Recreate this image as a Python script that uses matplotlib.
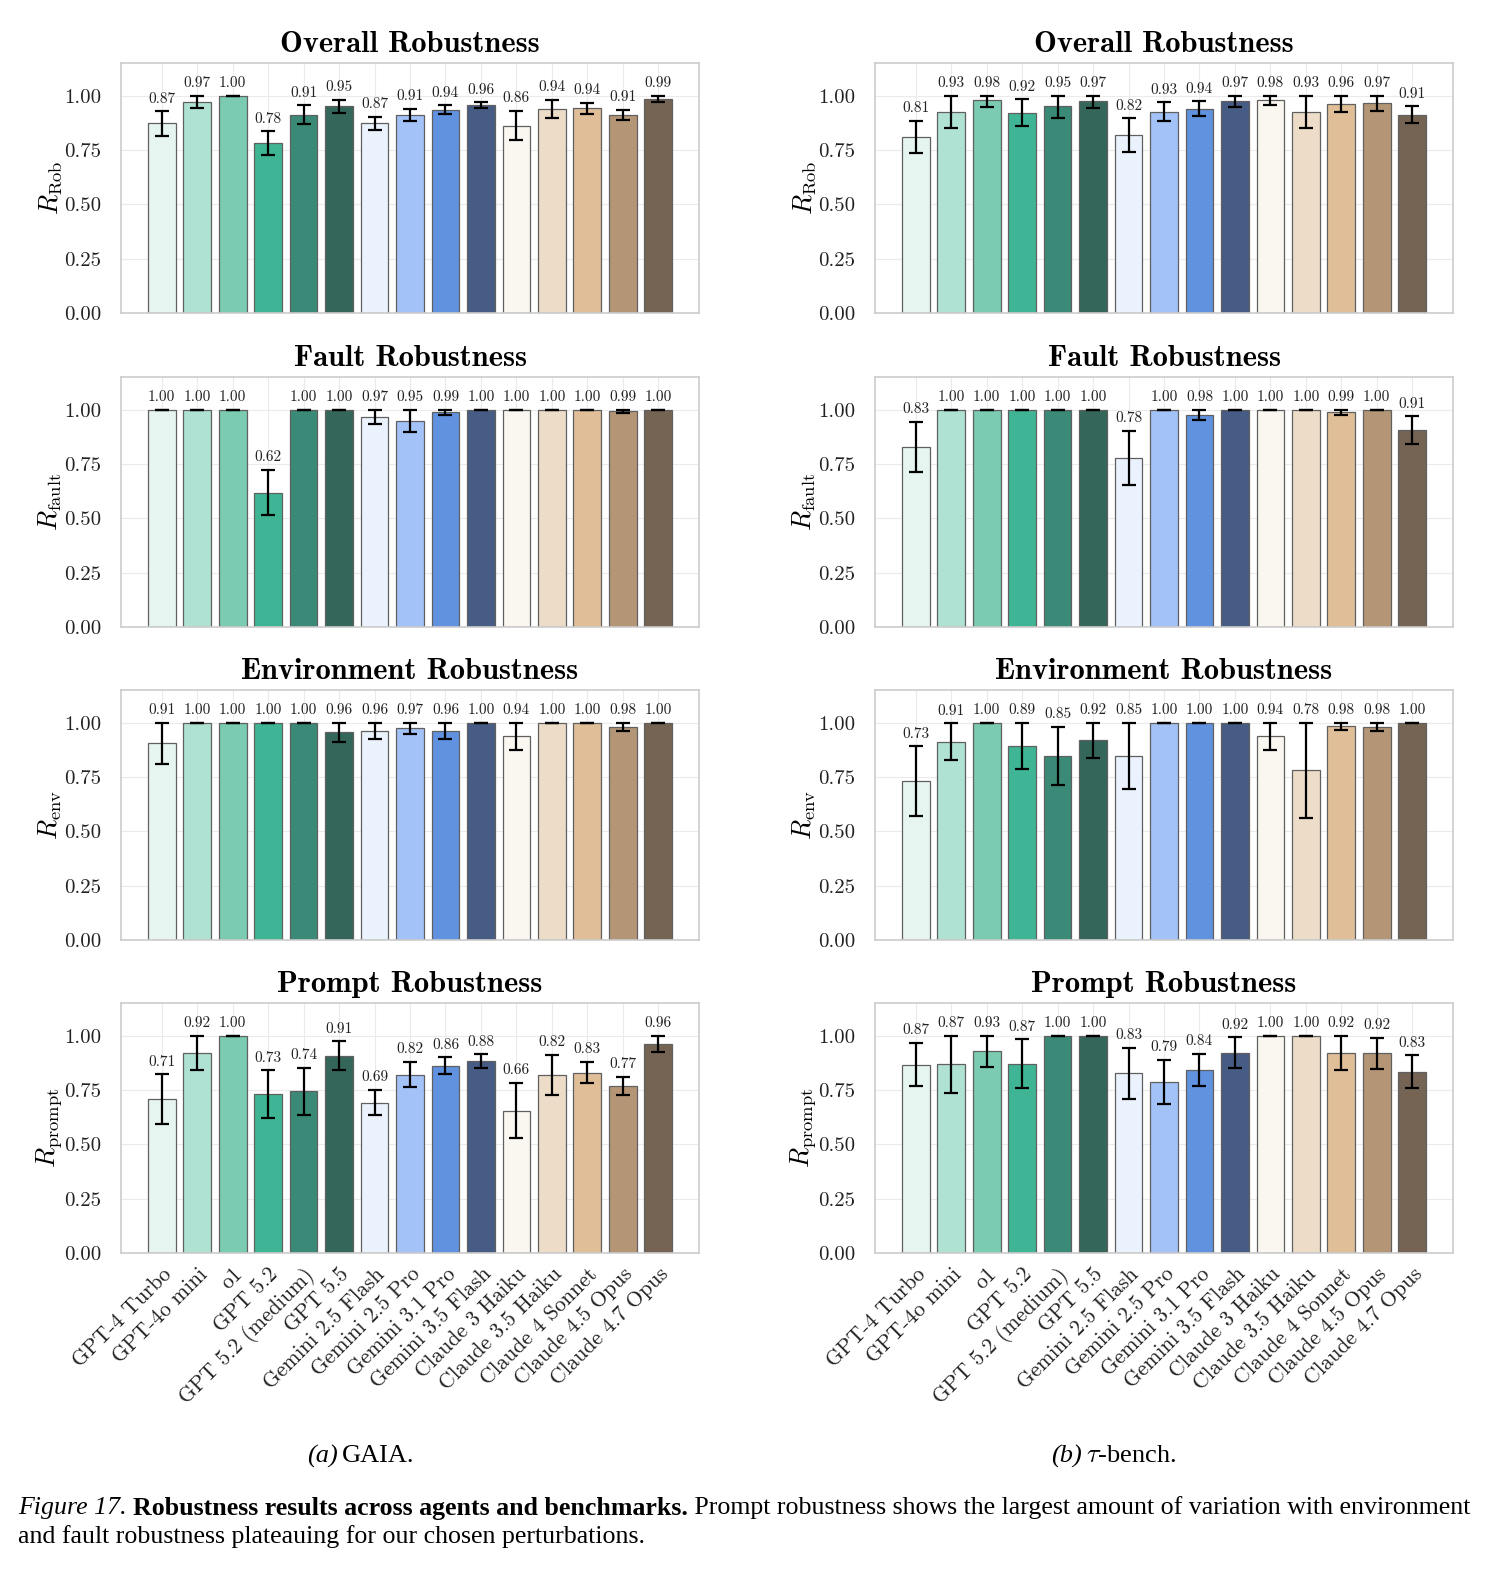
import numpy as np
import matplotlib
matplotlib.use("Agg")
import matplotlib.pyplot as plt

plt.rcParams['mathtext.fontset'] = 'cm'
plt.rcParams['font.family'] = ['cmr10', 'DejaVu Serif']
plt.rcParams['axes.formatter.use_mathtext'] = True

# ===============================
# Data
# ===============================

models = ["GPT-4 Turbo", "GPT-4o mini", "o1", "GPT 5.2", "GPT 5.2 (medium)", "GPT 5.5",
          "Gemini 2.5 Flash", "Gemini 2.5 Pro", "Gemini 3.1 Pro", "Gemini 3.5 Flash",
          "Claude 3 Haiku", "Claude 3.5 Haiku", "Claude 4 Sonnet", "Claude 4.5 Opus", "Claude 4.7 Opus"]

colors = ["#e6f5f0", "#b0e2d3", "#7acbb2", "#3fb595", "#3a8a77", "#35665a",
          "#eaf2fd", "#a3c2f7", "#6192e0", "#465c84",
          "#faf6f0", "#ecdcc8", "#dfbe98", "#b49676", "#756453"]

# GAIA
gaia_overall = [0.872, 0.972, 1.00, 0.782, 0.912, 0.952, 0.872, 0.912, 0.935, 0.957,
                0.862, 0.938, 0.941, 0.912, 0.986]
gaia_overall_err = [0.056, 0.027, 0.0, 0.053, 0.044, 0.030, 0.030, 0.028, 0.020, 0.013,
                    0.068, 0.043, 0.025, 0.022, 0.014]
gaia_fault = [1.00, 1.00, 1.00, 0.618, 1.00, 1.00, 0.968, 0.948, 0.988, 1.00,
              1.00, 1.00, 1.00, 0.994, 1.00]
gaia_fault_err = [0.0, 0.0, 0.0, 0.105, 0.0, 0.0, 0.032, 0.050, 0.013, 0.0,
                  0.0, 0.0, 0.0, 0.008, 0.0]
gaia_env = [0.905, 1.00, 1.00, 1.00, 1.00, 0.957, 0.962, 0.975, 0.962, 1.00,
            0.937, 1.00, 1.00, 0.981, 1.00]
gaia_env_err = [0.095, 0.0, 0.0, 0.0, 0.0, 0.045, 0.039, 0.026, 0.038, 0.0,
                0.062, 0.0, 0.0, 0.018, 0.0]
gaia_prompt = [0.708, 0.922, 1.00, 0.731, 0.744, 0.908, 0.692, 0.821, 0.862, 0.884,
               0.655, 0.820, 0.830, 0.769, 0.963]
gaia_prompt_err = [0.115, 0.082, 0.0, 0.110, 0.109, 0.065, 0.059, 0.059, 0.038, 0.031,
                   0.128, 0.093, 0.050, 0.042, 0.037]

# tau-bench
tau_overall = [0.809, 0.926, 0.978, 0.921, 0.950, 0.973, 0.818, 0.926, 0.940, 0.973,
               0.980, 0.926, 0.963, 0.968, 0.912]
tau_overall_err = [0.075, 0.075, 0.030, 0.063, 0.053, 0.028, 0.077, 0.043, 0.033, 0.025,
                   0.022, 0.075, 0.037, 0.037, 0.038]
tau_fault = [0.830, 1.00, 1.00, 1.00, 1.00, 1.00, 0.778, 1.00, 0.977, 1.00,
             1.00, 1.00, 0.988, 1.00, 0.905]
tau_fault_err = [0.115, 0.0, 0.0, 0.0, 0.0, 0.0, 0.125, 0.0, 0.023, 0.0,
                 0.0, 0.0, 0.013, 0.0, 0.065]
tau_env = [0.732, 0.911, 1.00, 0.893, 0.848, 0.919, 0.848, 1.00, 1.00, 1.00,
           0.937, 0.782, 0.985, 0.980, 1.00]
tau_env_err = [0.160, 0.085, 0.0, 0.107, 0.133, 0.082, 0.154, 0.0, 0.0, 0.0,
               0.063, 0.220, 0.019, 0.020, 0.0]
tau_prompt = [0.866, 0.870, 0.929, 0.871, 1.00, 1.00, 0.826, 0.787, 0.843, 0.922,
              1.00, 1.00, 0.920, 0.918, 0.834]
tau_prompt_err = [0.100, 0.135, 0.072, 0.113, 0.0, 0.0, 0.117, 0.103, 0.074, 0.070,
                  0.0, 0.0, 0.079, 0.073, 0.076]

titles = ["Overall Robustness", "Fault Robustness", "Environment Robustness", "Prompt Robustness"]
ylabels = [r"$R_{\mathrm{Rob}}$", r"$R_{\mathrm{fault}}$", r"$R_{\mathrm{env}}$", r"$R_{\mathrm{prompt}}$"]

gaia = [(gaia_overall, gaia_overall_err), (gaia_fault, gaia_fault_err),
        (gaia_env, gaia_env_err), (gaia_prompt, gaia_prompt_err)]
tau = [(tau_overall, tau_overall_err), (tau_fault, tau_fault_err),
       (tau_env, tau_env_err), (tau_prompt, tau_prompt_err)]

# ===============================
# Figure
# ===============================

W, H = 1491, 1575
fig = plt.figure(figsize=(W / 100, H / 100), dpi=100)

col_left = [121, 875]
ax_w = 578
row_top = [63, 377, 690, 1003]
ax_h = 250

x = np.arange(len(models))


def draw_panel(ax, vals, errs, title, ylabel, show_xticks):
    vals = np.array(vals)
    errs = np.array(errs)
    hi = np.minimum(vals + errs, 1.0)
    lo = np.maximum(vals - errs, 0.0)
    ax.set_axisbelow(True)
    ax.grid(True, color='#ebebeb', linewidth=0.8)
    ax.bar(x, vals, width=0.78, color=colors, edgecolor='#606060', linewidth=0.9, zorder=2)
    ax.errorbar(x, vals, yerr=[vals - lo, hi - vals], fmt='none', ecolor='black',
                elinewidth=1.6, capsize=5, capthick=1.6, zorder=3)
    for xi, v, t in zip(x, vals, hi):
        ax.annotate(f"{v:.2f}", (xi, t), xytext=(0, 4), textcoords='offset points',
                    ha='center', va='bottom', fontsize=11, color='#222222')
    ax.set_xlim(-1.15, len(models) - 1 + 1.15)
    ax.set_ylim(0, 1.15)
    ax.set_yticks([0, 0.25, 0.5, 0.75, 1.0])
    ax.set_yticklabels([f"{t:.2f}" for t in [0, 0.25, 0.5, 0.75, 1.0]], fontsize=15)
    ax.set_xticks(x)
    if show_xticks:
        ax.set_xticklabels(models, rotation=45, ha='right', rotation_mode='anchor', fontsize=15.5)
    else:
        ax.set_xticklabels([])
    ax.tick_params(axis='y', length=0, pad=14, colors='#222222')
    ax.tick_params(axis='x', length=0, pad=8, colors='#222222')
    for s in ax.spines.values():
        s.set_color('#cccccc')
        s.set_linewidth(1.2)
    ax.set_title(title, fontsize=22, fontfamily='cmb10', pad=8)
    ax.set_ylabel(ylabel, fontsize=19, labelpad=0)


for c, data in enumerate([gaia, tau]):
    for r in range(4):
        ax = fig.add_axes([col_left[c] / W, 1 - (row_top[r] + ax_h) / H, ax_w / W, ax_h / H])
        draw_panel(ax, data[r][0], data[r][1], titles[r], ylabels[r], r == 3)

# sub captions
sub_y = 1 - 1456 / H
fig.text(338 / W, sub_y, "(a)", fontsize=19, fontfamily='Liberation Serif',
         fontstyle='italic', ha='right', va='center')
fig.text(342 / W, sub_y, "GAIA.", fontsize=19, fontfamily='Liberation Serif',
         ha='left', va='center')
fig.text(1082 / W, sub_y, "(b)", fontsize=19, fontfamily='Liberation Serif',
         fontstyle='italic', ha='right', va='center')
fig.text(1086 / W, sub_y, r"$\tau$-bench.", fontsize=19, fontfamily='Liberation Serif',
         ha='left', va='center')

# caption with mixed styles
renderer = fig.canvas.get_renderer()
pieces = [("Figure 17. ", dict(fontstyle='italic')),
          ("Robustness results across agents and benchmarks.", dict(fontweight='bold')),
          (" Prompt robustness shows the largest amount of variation with environment", {})]
xpos = 18
for txt, kw in pieces:
    t = fig.text(xpos / W, 1 - 1508 / H, txt, fontsize=18.6, fontfamily='Liberation Serif',
                 ha='left', va='center', **kw)
    bb = t.get_window_extent(renderer=renderer)
    xpos += bb.width
fig.text(18 / W, 1 - 1537 / H, "and fault robustness plateauing for our chosen perturbations.",
         fontsize=18.6, fontfamily='Liberation Serif', ha='left', va='center')

fig.savefig("out.png", dpi=100)
